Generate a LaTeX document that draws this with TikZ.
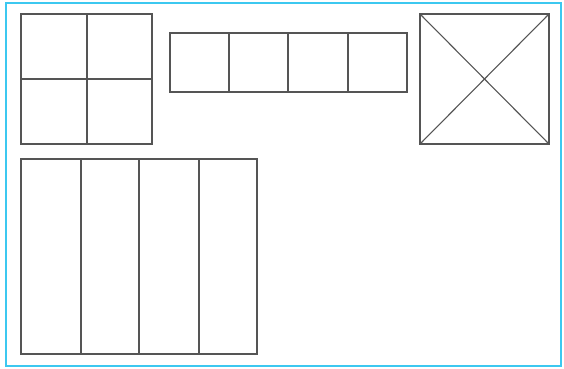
\documentclass[tikz,border=0pt]{standalone}
\usepackage{tikz}
\definecolor{kFrame}{HTML}{3CC8F0}
\definecolor{kLine}{HTML}{555555}
\tikzset{
  panel/.style={draw=kLine, line width=0.6pt},
  divider/.style={draw=kLine, line width=0.55pt},
  frame/.style={draw=kFrame, line width=1.1pt}
}
\begin{document}
\begin{tikzpicture}[x=0.5pt, y=-0.5pt]
  \useasboundingbox (0,0) rectangle (564,369);
  \draw[frame] (6,3) rectangle (561,366);
  % square split in four
  \draw[panel] (21,14) rectangle (152,144);
  \draw[divider] (87,14) -- (87,144);
  \draw[divider] (21,79) -- (152,79);
  % strip of four cells
  \draw[panel] (170,33) rectangle (407,92);
  \foreach \x in {229,288,348}
    \draw[divider] (\x,33) -- (\x,92);
  % crossed square
  \draw[panel] (420,14) rectangle (549,144);
  \draw[divider] (420,14) -- (549,144);
  \draw[divider] (549,14) -- (420,144);
  % tall panel in four columns
  \draw[panel] (21,159) rectangle (257,354);
  \foreach \x in {81,139,199}
    \draw[divider] (\x,159) -- (\x,354);
\end{tikzpicture}
\end{document}
